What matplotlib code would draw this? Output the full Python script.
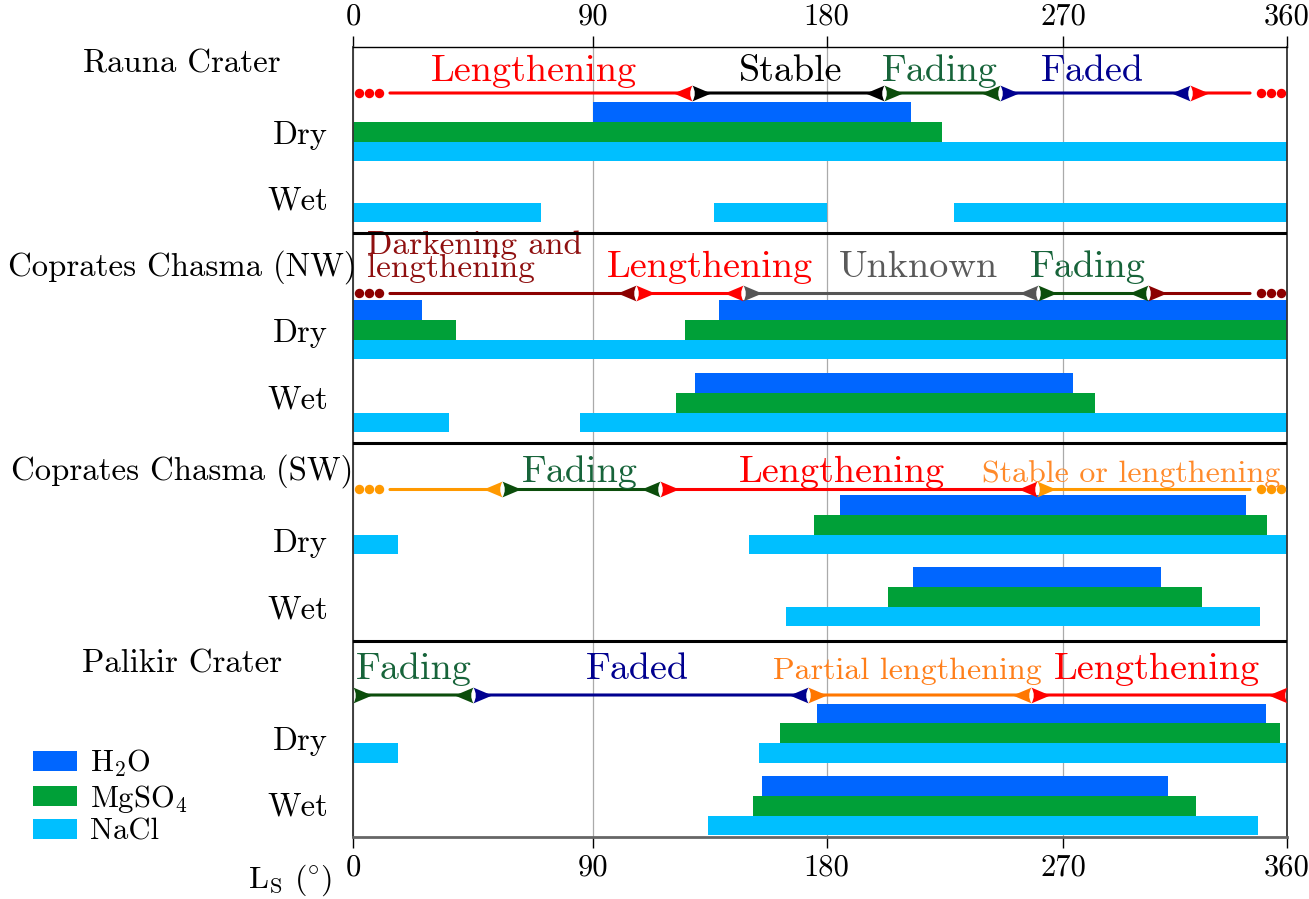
import numpy as np
import matplotlib
matplotlib.use('Agg')
import matplotlib.pyplot as plt
import matplotlib.transforms as mtransforms
from matplotlib.path import Path
from matplotlib.patches import FancyArrowPatch, Patch

plt.rcParams['font.family'] = 'cmr10'
plt.rcParams['mathtext.fontset'] = 'cm'
plt.rcParams['axes.formatter.use_mathtext'] = True

# Ls ticks and where they sit along the axis (axis is slightly uneven)
ls_ticks = [0, 90, 180, 270, 360]
tick_pos = [0, 240, 473.5, 710, 934]

salts = ['H$_2$O', 'MgSO$_4$', 'NaCl']
salt_colors = ['#0066ff', '#00a038', '#00bfff']

sites = ['Rauna Crater', 'Coprates Chasma (NW)', 'Coprates Chasma (SW)', 'Palikir Crater']

# Ls intervals (start, end) for H2O, MgSO4, NaCl
rauna_dry = [[(90, 212)], [(0, 224)], [(0, 360)]]
rauna_wet = [[], [], [(0, 70.5), (136.5, 180), (228.5, 360)]]
nw_dry = [[(0, 26), (138.5, 360)], [(0, 38.5), (125.5, 360)], [(0, 360)]]
nw_wet = [[(129.5, 274)], [(122, 283)], [(0, 36), (85, 360)]]
sw_dry = [[(185, 343.5)], [(175, 352)], [(0, 17), (150, 360)]]
sw_wet = [[(213, 309.5)], [(203.5, 326)], [(164.5, 349)]]
pal_dry = [[(176.5, 351.5)], [(162, 357)], [(0, 17), (154, 360)]]
pal_wet = [[(155, 312)], [(151.5, 323.5)], [(134.5, 348.5)]]

# RSL activity phases: boundaries in Ls and phase names
rauna_edges = [0, 128, 202, 246, 321, 360]
rauna_phases = ['Lengthening', 'Stable', 'Fading', 'Faded', 'Lengthening']
rauna_label_x = [68, 166, 223, 282, None]
nw_edges = [0, 106.5, 148, 260.5, 304, 360]
nw_phases = ['Darkening and\nlengthening', 'Lengthening', 'Unknown', 'Fading',
             'Darkening and\nlengthening']
nw_label_x = [5.3, 135, 215, 280, None]
sw_edges = [0, 56, 116, 260, 360]
sw_phases = ['Stable or lengthening', 'Fading', 'Lengthening', 'Stable or lengthening']
sw_label_x = [None, 85, 186, 297.5]
pal_edges = [0, 45, 173, 258, 360]
pal_phases = ['Fading', 'Faded', 'Partial lengthening', 'Lengthening']
pal_label_x = [23, 107, 210.6, 307.8]

line_colors = {'Lengthening': '#ff0000', 'Stable': '#000000', 'Fading': '#0b4d0b',
               'Faded': '#00008f', 'Darkening and\nlengthening': '#8b0000',
               'Unknown': '#555555', 'Stable or lengthening': '#ff9900',
               'Partial lengthening': '#ff7700'}
text_colors = dict(line_colors, **{'Fading': '#17643a', 'Unknown': '#5a5a5a',
                                   'Stable or lengthening': '#ff8a2a',
                                   'Partial lengthening': '#ff7f1a',
                                   'Darkening and\nlengthening': '#8f1010'})
small_labels = {'Stable or lengthening': 23, 'Partial lengthening': 23,
                'Darkening and\nlengthening': 24}

# vertical layout (axis units run top to bottom)
arrow_y = [93, 293.5, 489.5, 695]
label_y = [81, 277, 482, 679]
title_y = [73, 276, 480, 673]
dry_y = [112, 310, 505, 713.5]
wet_y = [173, 383, 577, 786]
dry_label_y = [132, 330, 540, 738]
wet_label_y = [198, 397, 607, 804]
separators = [233, 443, 641]
row_h = 19.7


def fwd(x):
    return np.interp(x, ls_ticks, tick_pos)


def inv(p):
    return np.interp(p, tick_pos, ls_ticks)


W, H = 1309, 899
fig = plt.figure(figsize=(W / 100, H / 100), dpi=100)
ax = fig.add_axes([353 / W, 1 - 837 / H, 934 / W, 790 / H])
ax.set_xscale('function', functions=(fwd, inv))
ax.set_xlim(0, 360)
ax.set_ylim(837, 47)

# stealth-like head with concave back, tip pointing into the segment
head_r = Path([(0, 0.42), (1, 0), (0, -0.42), (0.25, 0), (0, 0.42), (0, 0)],
              [Path.MOVETO, Path.LINETO, Path.LINETO, Path.CURVE3, Path.CURVE3,
               Path.CLOSEPOLY])
head_l = Path(head_r.vertices * [-1, 1], head_r.codes)


def draw_bars(groups, y0):
    for k, ivals in enumerate(groups):
        for a, b in ivals:
            ax.barh(y0 + k * row_h, b - a, left=a, height=row_h,
                    color=salt_colors[k], zorder=2)


def wrap_dots(x, y, side, color):
    for d in (4.3, 11.5, 18.7):
        tr = mtransforms.offset_copy(ax.transData, fig=fig, x=side * d, y=0, units='points')
        ax.plot([x], [y], 'o', ms=6.8, color=color, mew=0, transform=tr,
                clip_on=False, zorder=4)


def draw_phases(edges, phases, label_x, y, ly, wrap):
    n = len(phases)
    for i, name in enumerate(phases):
        c = line_colors[name]
        a, b = edges[i], edges[i + 1]
        open_left = wrap and i == 0
        open_right = wrap and i == n - 1
        ax.add_patch(FancyArrowPatch((a, y), (b, y), arrowstyle='-',
                                     shrinkA=26.6 if open_left else 6,
                                     shrinkB=26.6 if open_right else 6,
                                     lw=2.2, color=c, zorder=3))
        if open_left:
            wrap_dots(a, y, 1, c)
        else:
            ax.plot([a], [y], marker=head_r, ms=27, color=c, mew=0,
                    ls='none', zorder=4, clip_on=False)
        if open_right:
            wrap_dots(b, y, -1, c)
        else:
            ax.plot([b], [y], marker=head_l, ms=27, color=c, mew=0,
                    ls='none', zorder=4, clip_on=False)
        if label_x[i] is not None:
            fs = small_labels.get(name, 27.5)
            ha = 'left' if '\n' in name else 'center'
            ax.text(label_x[i], ly, name, color=text_colors[name], fontsize=fs,
                    ha=ha, va='baseline', linespacing=0.75, zorder=5)


dry_sets = [rauna_dry, nw_dry, sw_dry, pal_dry]
wet_sets = [rauna_wet, nw_wet, sw_wet, pal_wet]
phase_sets = [(rauna_edges, rauna_phases, rauna_label_x, True),
              (nw_edges, nw_phases, nw_label_x, True),
              (sw_edges, sw_phases, sw_label_x, True),
              (pal_edges, pal_phases, pal_label_x, False)]

for p in range(4):
    draw_bars(dry_sets[p], dry_y[p])
    draw_bars(wet_sets[p], wet_y[p])
    edges, phases, lx, wrap = phase_sets[p]
    draw_phases(edges, phases, lx, arrow_y[p], label_y[p], wrap)
    ax.text(-0.183, title_y[p], sites[p], transform=ax.get_yaxis_transform(),
            ha='center', va='baseline', fontsize=23.6)

for s in separators:
    ax.axhline(s, color='black', lw=2.2, zorder=5)

ax.set_xticks(ls_ticks, labels=[str(t) for t in ls_ticks])
ax.tick_params(axis='x', top=True, labeltop=True, direction='out', length=8,
               width=1, pad=4, labelsize=22)
ax.grid(axis='x', color='#aaaaaa', lw=0.9)
ax.set_axisbelow(True)

ax.set_yticks(dry_label_y + wet_label_y,
              labels=['Dry'] * 4 + ['Wet'] * 4)
ax.tick_params(axis='y', length=0, pad=18, labelsize=23.5)

ax.spines['top'].set_linewidth(1)
ax.spines['bottom'].set_linewidth(2)
ax.spines['bottom'].set_color('#666666')
for side in ('left', 'right'):
    ax.spines[side].set_linewidth(1.3)
    ax.spines[side].set_color('#333333')

handles = [Patch(facecolor=c) for c in salt_colors]
fig.legend(handles, salts, loc='upper left', bbox_to_anchor=(33 / W, 1 - 748 / H),
           frameon=False, borderpad=0, borderaxespad=0, handlelength=1.44,
           handleheight=0.65, handletextpad=0.42, labelspacing=0.12, fontsize=22)

fig.text(290 / W, 1 - 880 / H, r'L$_\mathrm{S}$ ($\!^\circ\!$)', ha='center',
         va='center', fontsize=23)

fig.savefig('out.png', dpi=100)
